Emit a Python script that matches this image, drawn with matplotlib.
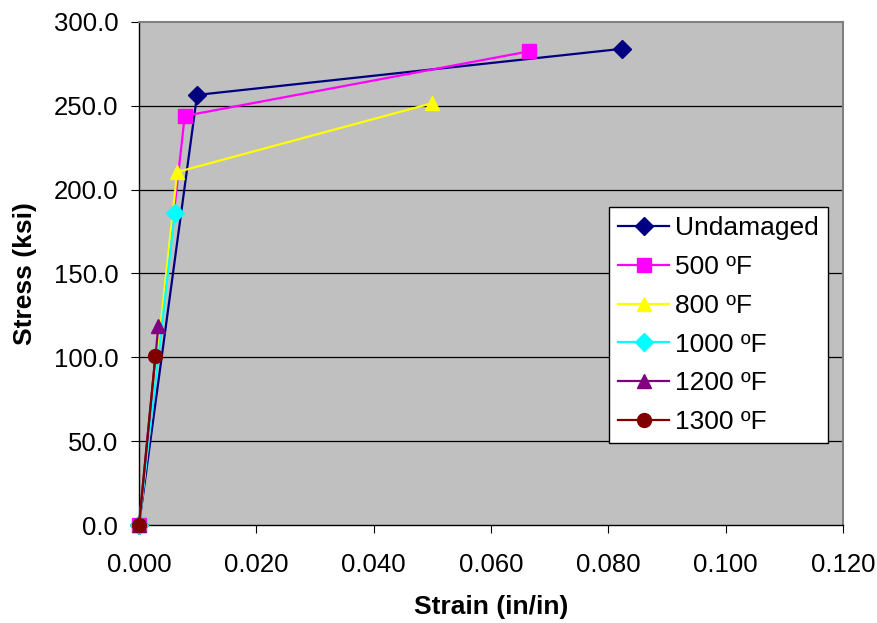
import matplotlib
matplotlib.use("Agg")
import matplotlib.pyplot as plt
from matplotlib.ticker import FormatStrFormatter

plt.rcParams['font.family'] = ['Liberation Sans', 'DejaVu Sans']

# strain (in/in) and stress (ksi) for each condition
labels = ["Undamaged", "500 \u00baF", "800 \u00baF", "1000 \u00baF", "1200 \u00baF", "1300 \u00baF"]
undamaged_x = [0.0, 0.0099, 0.0823]
undamaged_y = [0.0, 256.5, 284.0]
f500_x = [0.0, 0.0078, 0.0665]
f500_y = [0.0, 244.0, 282.5]
f800_x = [0.0, 0.0065, 0.0499]
f800_y = [0.0, 210.5, 251.5]
f1000_x = [0.0, 0.0061]
f1000_y = [0.0, 186.0]
f1200_x = [0.0, 0.0033]
f1200_y = [0.0, 118.5]
f1300_x = [0.0, 0.0028]
f1300_y = [0.0, 101.0]

xs = [undamaged_x, f500_x, f800_x, f1000_x, f1200_x, f1300_x]
ys = [undamaged_y, f500_y, f800_y, f1000_y, f1200_y, f1300_y]
colors = ["#000080", "#FF00FF", "#FFFF00", "#00FFFF", "#800080", "#800000"]
markers = ["D", "s", "^", "D", "^", "o"]
msizes = [9, 10, 9.5, 9, 9.5, 10]

fig = plt.figure(figsize=(8.77, 6.23), dpi=100)
ax = fig.add_axes([0.1585, 0.1573, 0.8027, 0.8074])
ax.set_facecolor("#C0C0C0")

for y in range(50, 300, 50):
    ax.axhline(y, color="black", lw=0.9, zorder=1)

for x, y, c, m, s, lab in zip(xs, ys, colors, markers, msizes, labels):
    ax.plot(x, y, color=c, marker=m, markersize=s, lw=1.6, label=lab,
            zorder=3, clip_on=False)

ax.set_xlim(0, 0.12)
ax.set_ylim(0, 300)
ax.set_xticks([i * 0.02 for i in range(7)])
ax.set_yticks(range(0, 301, 50))
ax.xaxis.set_major_formatter(FormatStrFormatter('%.3f'))
ax.yaxis.set_major_formatter(FormatStrFormatter('%.1f'))
ax.tick_params(axis='both', direction='out', labelsize=18.5, color='black')
ax.tick_params(axis='y', length=6, pad=9)
ax.tick_params(axis='x', length=6, pad=14)

for side in ['top', 'right']:
    ax.spines[side].set_color('#808080')
    ax.spines[side].set_linewidth(1.5)
for side in ['left', 'bottom']:
    ax.spines[side].set_color('black')
    ax.spines[side].set_linewidth(1.0)

ax.set_xlabel("Strain (in/in)", fontsize=19, fontweight='bold', labelpad=13)
ax.set_ylabel("Stress (ksi)", fontsize=19, fontweight='bold', labelpad=12)

leg = ax.legend(loc='upper left', bbox_to_anchor=(0.668, 0.632), fontsize=19,
                frameon=True, fancybox=False, edgecolor='black', framealpha=1,
                handlelength=1.9, borderpad=0.35, labelspacing=0.56, handletextpad=0.25,
                borderaxespad=0)
leg.get_frame().set_linewidth(1.0)

fig.savefig("out.png", dpi=100)
